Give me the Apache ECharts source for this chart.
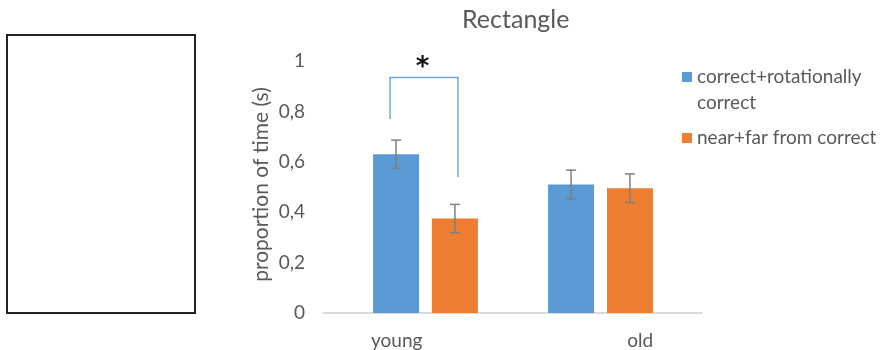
<!DOCTYPE html>
<html>
<head>
<meta charset="utf-8">
<script src="https://cdn.jsdelivr.net/npm/echarts@6/dist/echarts.min.js"></script>
<style>html,body{margin:0;padding:0;background:#fff;}#c{width:881px;height:350px;}</style>
</head>
<body>
<div id="c"></div>
<script>
var categories = ['young', 'old'];
var seriesNames = ['correct+rotationally correct', 'near+far from correct'];
var correctMeans = [0.63, 0.51];
var correctErr = [0.056, 0.057];
var nearFarMeans = [0.375, 0.495];
var nearFarErr = [0.056, 0.057];
var yTickValues = [0, 0.2, 0.4, 0.6, 0.8, 1];
var bracketLeftEnd = 0.77;
var bracketRightEnd = 0.54;
var bracketTop = 0.935;
var starLevel = 0.97;

var FONT = 'Lato';
var TXT = '#595959';
var BLUE = '#5B9BD5';
var ORANGE = '#ED7D31';
var BAR_W = 46;
var GAP_RATIO = 0.28;
var HALF_OFF = (BAR_W + BAR_W * GAP_RATIO) / 2;

function errData(means, errs) {
  return means.map(function (m, i) { return [i, m, errs[i]]; });
}
function errRender(sign) {
  return function (params, api) {
    var c = api.value(0), m = api.value(1), e = api.value(2);
    var top = api.coord([c, m + e]);
    var bot = api.coord([c, m - e]);
    var x = top[0] + sign * HALF_OFF;
    var st = { stroke: '#7f7f7f', lineWidth: 1.5 };
    return {
      type: 'group',
      children: [
        { type: 'line', shape: { x1: x, y1: top[1], x2: x, y2: bot[1] }, style: st },
        { type: 'line', shape: { x1: x - 5, y1: top[1], x2: x + 5, y2: top[1] }, style: st },
        { type: 'line', shape: { x1: x - 5, y1: bot[1], x2: x + 5, y2: bot[1] }, style: st }
      ]
    };
  };
}

var chart = echarts.init(document.getElementById('c'), null, { renderer: 'canvas' });
var option = {
  animation: false,
  backgroundColor: '#fff',
  textStyle: { fontFamily: FONT },
  title: {
    text: 'Rectangle', left: 462, top: 7, padding: 0,
    textStyle: { fontFamily: FONT, fontSize: 25, fontWeight: 'normal', color: TXT }
  },
  graphic: [{
    type: 'rect', shape: { x: 7, y: 35, width: 188, height: 278 },
    style: { fill: '#fff', stroke: '#222', lineWidth: 2 }
  }],
  legend: {
    orient: 'vertical', left: 682, top: 38, padding: 0, itemGap: 9,
    itemWidth: 10, itemHeight: 10, icon: 'rect',
    data: [seriesNames[0], seriesNames[1]],
    formatter: function (n) { return n === seriesNames[0] ? '\ncorrect+rotationally\ncorrect' : n; },
    textStyle: { fontFamily: FONT, fontSize: 19, color: TXT, lineHeight: 26 }
  },
  grid: [
    { left: 338, right: 193, top: 61, bottom: 37 },
    { left: 323, right: 179, top: 61, bottom: 37 }
  ],
  xAxis: [
    { type: 'category', gridIndex: 0, data: categories, show: false },
    {
      type: 'category', gridIndex: 1, data: categories,
      axisLine: { lineStyle: { color: '#d0d0d0', width: 1.5 } },
      axisTick: { show: false },
      axisLabel: {
        margin: 18, fontFamily: FONT, fontSize: 19, color: TXT,
        formatter: function (v) { return v === categories[0] ? '{y|' + v + '}' : '{o|' + v + '}'; },
        rich: {
          y: { padding: [0, 42, 0, 0], fontFamily: FONT, fontSize: 19, color: TXT },
          o: { padding: [0, 0, 0, 66], fontFamily: FONT, fontSize: 19, color: TXT }
        }
      }
    }
  ],
  yAxis: [
    { type: 'value', gridIndex: 0, min: 0, max: 1, show: false },
    {
      type: 'value', gridIndex: 1, min: 0, max: 1, interval: 0.2,
      axisLine: { show: false }, axisTick: { show: false }, splitLine: { show: false },
      axisLabel: {
        margin: 18, fontFamily: FONT, fontSize: 19, color: TXT,
        customValues: yTickValues,
        formatter: function (v) { return String(Math.round(v * 10) / 10).replace('.', ','); }
      },
      name: 'proportion of time (s)', nameLocation: 'middle', nameGap: 51,
      nameTextStyle: { fontFamily: FONT, fontSize: 21, color: TXT, padding: [0, 0, 0, 5] }
    }
  ],
  series: [
    {
      name: seriesNames[0], type: 'bar', xAxisIndex: 0, yAxisIndex: 0,
      barWidth: BAR_W, barGap: (GAP_RATIO * 100) + '%',
      itemStyle: { color: BLUE }, data: correctMeans
    },
    {
      name: seriesNames[1], type: 'bar', xAxisIndex: 0, yAxisIndex: 0,
      barWidth: BAR_W, barGap: (GAP_RATIO * 100) + '%',
      itemStyle: { color: ORANGE }, data: nearFarMeans
    },
    {
      type: 'custom', xAxisIndex: 0, yAxisIndex: 0, silent: true, z: 5,
      renderItem: errRender(-1), data: errData(correctMeans, correctErr)
    },
    {
      type: 'custom', xAxisIndex: 0, yAxisIndex: 0, silent: true, z: 5,
      renderItem: errRender(1), data: errData(nearFarMeans, nearFarErr)
    },
    {
      type: 'custom', xAxisIndex: 0, yAxisIndex: 0, silent: true, z: 6,
      data: [[0, bracketLeftEnd, bracketRightEnd, bracketTop, starLevel]],
      renderItem: function (params, api) {
        var c = api.value(0);
        var pl = api.coord([c, api.value(1)]);
        var pr = api.coord([c, api.value(2)]);
        var pt = api.coord([c, api.value(3)]);
        var ps = api.coord([c, api.value(4)]);
        var xl = pl[0] - HALF_OFF - 6, xr = pl[0] + HALF_OFF + 3;
        return {
          type: 'group',
          children: [
            { type: 'polyline', shape: { points: [[xl, pl[1]], [xl, pt[1]], [xr, pt[1]], [xr, pr[1]]] },
              style: { stroke: '#6FA8DC', lineWidth: 1.5, fill: null } },
            { type: 'text', x: ps[0] - 3, y: ps[1],
              style: { text: '*', fontFamily: 'DejaVu Sans', fontSize: 26, fontWeight: 'bold', fill: '#111',
                       align: 'center', verticalAlign: 'middle' } }
          ]
        };
      }
    }
  ]
};
chart.setOption(option);
</script>
</body>
</html>
